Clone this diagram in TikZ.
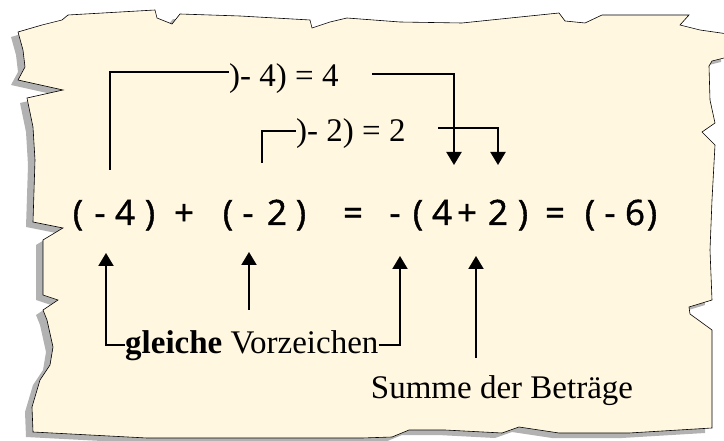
\documentclass[tikz,border=0pt]{standalone}
\usepackage{fontspec}
\setmainfont{Liberation Serif}
\newfontfamily\eqfont[FakeBold=1.2]{Open Sans}
\usetikzlibrary{arrows.meta}
\definecolor{paper}{HTML}{FFF7E0}
\definecolor{papershadow}{HTML}{B2B2B2}

\begin{document}
\begin{tikzpicture}[x=1pt,y=-1pt,>={Triangle[width=15pt,length=13pt]},font=\fontsize{33}{38}\selectfont]
\tikzset{lbl/.style={inner sep=0pt},
  eq/.style={inner sep=0pt,anchor=base,font=\eqfont\fontsize{35}{40}\selectfont},
  link/.style={line width=2pt},
  arr/.style={link,->}}
\useasboundingbox (0,0) rectangle (724,441);
% torn sheet with its shadow
\def\sheet{(18,32) -- (42,25) -- (62,20) -- (68,15) -- (155,10) -- (157,18) -- (172,24) -- (180,14) -- (240,16) -- (310,20) -- (312,28) -- (330,22) -- (347,18) -- (400,22) -- (462,23) -- (520,17) -- (559,13) -- (565,21) -- (585,23) -- (602,15) -- (689,15) -- (680,25) -- (700,30) -- (728,34) -- (728,57) -- (712,61) -- (709,66) -- (710,100) -- (715,123) -- (702,132) -- (715,145) -- (712,200) -- (710,250) -- (712,300) -- (689,307) -- (690,314) -- (712,330) -- (712,428) -- (629,433) -- (559,433) -- (519,427) -- (502,433) -- (445,430) -- (409,430) -- (392,437) -- (362,438) -- (147,438) -- (33,432) -- (32,407) -- (40,380) -- (50,365) -- (53,347) -- (47,320) -- (43,310) -- (58,300) -- (43,295) -- (43,240) -- (63,228) -- (33,222) -- (35,160) -- (33,127) -- (27,98) -- (63,90) -- (18,80) -- (25,67) -- (23,50) -- cycle}
\fill[papershadow,shift={(-7,5)}] \sheet;
\filldraw[fill=paper,draw=black,line width=0.6pt] \sheet;
% equation
\foreach \x/\s [count=\i] in {78/(,100/-,125/4,150/),184/+,228/(,248/-,277/2,301/),353/=,395/-,418/(,442/4,467/+,498/2,523/),555/=,590/(,610/-,635/6,652/)}
  \node[eq] (c\i) at (\x,225) {\s};
% labels
\node[lbl,anchor=base west] (abs4) at (229,87) {)- 4) = 4};
\node[lbl,anchor=base west] (abs2) at (296,142) {)- 2) = 2};
\node[lbl,anchor=base west] (same) at (125,353) {\textbf{gleiche} Vorzeichen};
\node[lbl,anchor=base] (sum) at (502,399) {Summe der Beträge};
% connector ends
\coordinate (u1) at (110,170);
\coordinate (u2) at (262,163);
\coordinate (v1) at (372,74);
\coordinate (v2) at (438,128);
\coordinate (d1) at (454,165);
\coordinate (d2) at (498,165);
\coordinate (t1) at (106,253);
\coordinate (t2) at (249,252);
\coordinate (t3) at (400,256);
\coordinate (t4) at (476,256);
\coordinate (b2) at (249,310);
\coordinate (b4) at (476,358);
\draw[link] (u1) |- ([yshift=7pt]abs4.west);
\draw[arr] (v1) -| (d1);
\draw[link] (u2) |- ([yshift=3pt]abs2.west);
\draw[arr] (v2) -| (d2);
\draw[arr] (same.west) -| (t1);
\draw[arr] (same.east) -| (t3);
\draw[arr] (b2) -- (t2);
\draw[arr] (b4) -- (t4);
\end{tikzpicture}
\end{document}
